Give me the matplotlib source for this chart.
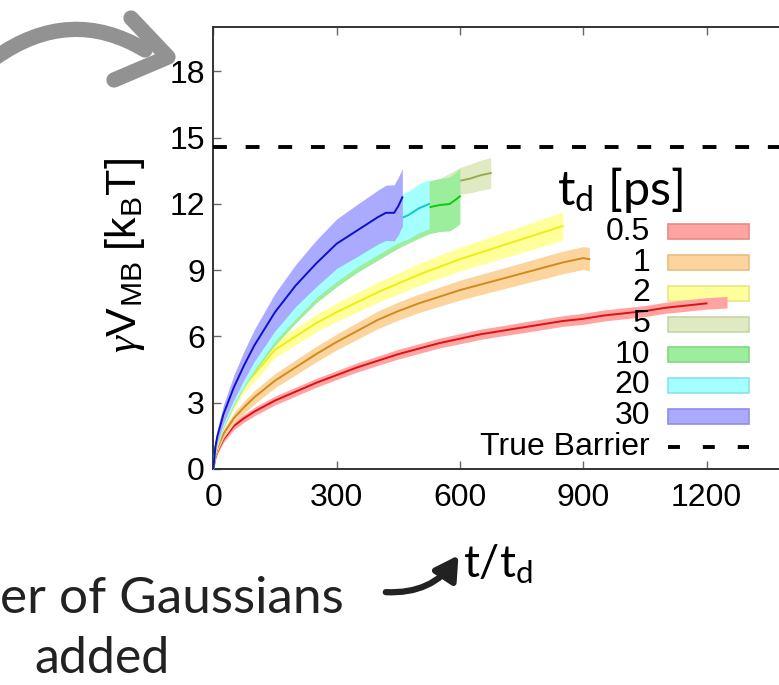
import matplotlib
matplotlib.use("Agg")
import matplotlib.pyplot as plt
import numpy as np
from matplotlib.patches import Rectangle, FancyArrowPatch, PathPatch
from matplotlib.path import Path
from matplotlib.lines import Line2D

plt.rcParams["lines.scale_dashes"] = False
plt.rcParams["mathtext.fontset"] = "custom"
plt.rcParams["mathtext.rm"] = "Liberation Sans"
plt.rcParams["mathtext.it"] = "Liberation Serif:italic"
plt.rcParams["font.family"] = ["Liberation Sans", "DejaVu Sans"]

# ---- data: barrier estimate vs. number of deposited Gaussians ----
labels = ["0.5", "1", "2", "5", "10", "20", "30"]
true_barrier = 14.6

x_05 = [0, 5, 10, 25, 50, 75, 100, 150, 200, 250, 300, 350, 400, 450, 500, 550,
        600, 650, 700, 750, 800, 850, 900, 950, 1000, 1050, 1100, 1150, 1200, 1250]
v_05 = [0, 0.5, 0.8, 1.35, 1.95, 2.3, 2.6, 3.1, 3.5, 3.9, 4.25, 4.6, 4.9, 5.2, 5.45, 5.7,
        5.9, 6.1, 6.25, 6.4, 6.55, 6.7, 6.8, 6.95, 7.05, 7.15, 7.3, 7.4, 7.5, 7.55]
e_05 = [0.05, 0.1, 0.12, 0.15, 0.17, 0.18, 0.19, 0.2, 0.2, 0.2, 0.2, 0.21, 0.21, 0.22, 0.22, 0.22,
        0.23, 0.23, 0.23, 0.24, 0.24, 0.24, 0.25, 0.25, 0.25, 0.25, 0.25, 0.26, 0.26, 0.26]

x_1 = [0, 5, 10, 25, 50, 75, 100, 150, 200, 250, 300, 350, 400, 450, 500, 550,
       600, 650, 700, 750, 800, 850, 900, 915]
v_1 = [0, 0.6, 0.95, 1.6, 2.3, 2.8, 3.25, 4.0, 4.6, 5.2, 5.75, 6.25, 6.75, 7.15, 7.5, 7.8,
       8.1, 8.35, 8.6, 8.85, 9.1, 9.35, 9.55, 9.5]
e_1 = [0.05, 0.12, 0.15, 0.2, 0.25, 0.28, 0.3, 0.32, 0.34, 0.35, 0.36, 0.38, 0.4, 0.41, 0.42, 0.43,
       0.45, 0.46, 0.47, 0.48, 0.5, 0.51, 0.52, 0.53]

x_2 = [0, 5, 10, 25, 50, 75, 100, 150, 200, 250, 300, 350, 400, 450, 500, 550,
       600, 650, 700, 750, 800, 850]
v_2 = [0, 0.8, 1.2, 2.1, 3.0, 3.8, 4.3, 5.4, 6.0, 6.6, 7.1, 7.55, 8.0, 8.4, 8.8, 9.15,
       9.5, 9.8, 10.1, 10.4, 10.7, 11.0]
e_2 = [0.05, 0.15, 0.2, 0.25, 0.3, 0.32, 0.34, 0.36, 0.38, 0.4, 0.42, 0.44, 0.46, 0.48, 0.5, 0.52,
       0.54, 0.56, 0.58, 0.6, 0.62, 0.64]

x_5 = [0, 5, 10, 25, 50, 75, 100, 150, 200, 250, 300, 350, 400, 450, 500, 550,
       600, 625, 650, 675]
v_5 = [0, 0.9, 1.4, 2.3, 3.4, 4.3, 5.1, 6.4, 7.6, 8.6, 9.5, 10.2, 10.9, 11.5, 12.0, 12.5,
       13.05, 13.15, 13.3, 13.4]
e_5 = [0.05, 0.2, 0.25, 0.3, 0.35, 0.4, 0.42, 0.45, 0.48, 0.5, 0.52, 0.55, 0.57, 0.6, 0.62, 0.64,
       0.6, 0.65, 0.68, 0.7]

x_10 = [0, 5, 10, 25, 50, 75, 100, 150, 200, 250, 300, 350, 400, 450, 500, 525,
        550, 575, 590, 600]
v_10 = [0, 0.9, 1.35, 2.2, 3.3, 4.2, 5.0, 6.3, 7.4, 8.4, 9.2, 9.9, 10.5, 11.1, 11.6, 11.85,
        11.95, 12.0, 12.2, 12.35]
e_10 = [0.05, 0.2, 0.25, 0.35, 0.45, 0.52, 0.6, 0.7, 0.8, 0.88, 0.95, 1.0, 1.05, 1.1, 1.15, 1.2,
        1.2, 1.22, 1.24, 1.25]

x_20 = [0, 5, 10, 25, 50, 75, 100, 150, 200, 250, 300, 350, 400, 450, 475, 500, 525]
v_20 = [0, 0.9, 1.4, 2.3, 3.4, 4.3, 5.1, 6.5, 7.6, 8.6, 9.4, 10.1, 10.7, 11.3, 11.5, 11.8, 12.0]
e_20 = [0.05, 0.2, 0.25, 0.35, 0.45, 0.52, 0.6, 0.7, 0.8, 0.85, 0.9, 0.95, 1.0, 1.05, 1.08, 1.1, 1.12]

x_30 = [0, 5, 10, 25, 50, 75, 100, 150, 200, 250, 300, 350, 400, 420, 440, 450, 460]
v_30 = [0, 1.0, 1.5, 2.5, 3.7, 4.7, 5.6, 7.1, 8.3, 9.3, 10.2, 10.8, 11.4, 11.6, 11.6, 11.9, 12.3]
e_30 = [0.05, 0.2, 0.3, 0.42, 0.55, 0.65, 0.72, 0.85, 0.95, 1.05, 1.12, 1.18, 1.22, 1.25, 1.27, 1.3, 1.3]

series = [
    (x_05, v_05, e_05, 1200),
    (x_1, v_1, e_1, 915),
    (x_2, v_2, e_2, 850),
    (x_5, v_5, e_5, 675),
    (x_10, v_10, e_10, 600),
    (x_20, v_20, e_20, 525),
    (x_30, v_30, e_30, 460),
]
band_colors = ["#ffa3a3", "#fcd59e", "#ffff9c", "#dfe9c2", "#9cee9c", "#a4ffff", "#aaaaff"]
edge_colors = ["#e88a8a", "#e8bd80", "#e8e880", "#c8d4a8", "#80d880", "#88e4e4", "#8e8ee8"]
line_colors = ["#dd1111", "#d08a20", "#eeee10", "#98aa50", "#10c810", "#10c8c8", "#1010cc"]

# ---- figure geometry (pixels) ----
W, H = 779, 685
fig = plt.figure(figsize=(W / 100, H / 100), dpi=100)


def fx(px):
    return px / W


def fy(py):
    return 1 - py / H


x0_px, y0_px, top_px = 213.3, 469.0, 27.3
xmax = 1500
ax = fig.add_axes([fx(x0_px), fy(y0_px), xmax * 0.411 / W, (y0_px - top_px) / H])

for i, (xs, vs, es, xend) in enumerate(series):
    xs = np.asarray(xs, float)
    vs = np.asarray(vs, float)
    es = np.asarray(es, float)
    z = 2 + i
    ax.fill_between(xs, vs - es, vs + es, color=band_colors[i], lw=0, zorder=z)
    m = xs <= xend
    ax.plot(xs[m], vs[m], color=line_colors[i], lw=1.4, zorder=z + 0.5)

ax.axhline(true_barrier, color="black", lw=2.8, dashes=(10, 13.5), zorder=20)

ax.set_xlim(0, xmax)
ax.set_ylim(0, 20)
ax.set_xticks([0, 300, 600, 900, 1200])
ax.set_yticks([0, 3, 6, 9, 12, 15, 18])
ax.tick_params(axis="both", direction="in", length=6, width=1, color="#666666",
               labelsize=23, top=True, right=True)
ax.tick_params(axis="x", pad=10)
ax.tick_params(axis="y", pad=6)
for s in ax.spines.values():
    s.set_color("#333333")
    s.set_linewidth(1.4)

# ---- legend, placed by hand ----
leg_y0, leg_dy = 232.0, 30.7
for i, lab in enumerate(labels):
    yc = leg_y0 + leg_dy * i
    ax.text(fx(650), fy(yc), lab, transform=fig.transFigure, ha="right", va="center",
            fontsize=23, color="black", zorder=30)
    ax.add_patch(Rectangle((fx(668), fy(yc + 7.5)), 81 / W, 15 / H, transform=fig.transFigure,
                           facecolor=band_colors[i], edgecolor=edge_colors[i], lw=1.2, zorder=1))
yc = leg_y0 + leg_dy * 7
ax.text(fx(650), fy(yc), "True Barrier", transform=fig.transFigure, ha="right", va="center",
        fontsize=23, color="black", zorder=30)
ax.add_line(Line2D([fx(668), fx(749)], [fy(yc), fy(yc)], transform=fig.transFigure,
                   color="black", lw=2.8, dashes=(8.6, 16.5), zorder=30))

fig.text(fx(557), fy(205), r"t$_{\mathregular{d}}$ [ps]", fontsize=35, family="Lato",
         ha="left", va="baseline")

# ---- axis labels ----
fig.text(fx(125), fy(256), r"$\gamma\mathregular{V_{MB}\ [k_{B}T]}$", rotation=90,
         fontsize=31, ha="center", va="center")
fig.text(fx(463), fy(577), r"t/t$_{\mathregular{d}}$", fontsize=32, family="Lato",
         ha="left", va="baseline")

# ---- annotation text and arrows ----
fig.text(fx(0), fy(613), "er of Gaussians", fontsize=37, family="Lato",
         ha="left", va="baseline", color="#222222")
fig.text(fx(102), fy(673), "added", fontsize=36, family="Lato",
         ha="center", va="baseline", color="#222222")

arrow = FancyArrowPatch((fx(383), fy(592)), (fx(460), fy(553)), transform=fig.transFigure,
                        connectionstyle="arc3,rad=0.3",
                        arrowstyle="-|>,head_length=0.7,head_width=0.4",
                        mutation_scale=20, lw=4.5, color="#222222")
fig.add_artist(arrow)

grey = "#929292"
shaft = Path([(fx(-5), fy(58)), (fx(70), fy(5)), (fx(145), fy(50))],
             [Path.MOVETO, Path.CURVE3, Path.CURVE3])
fig.add_artist(PathPatch(shaft, transform=fig.transFigure, facecolor="none", edgecolor=grey,
                         lw=11, capstyle="round"))
head = Path([(fx(131), fy(18)), (fx(168), fy(57)), (fx(114), fy(80))],
            [Path.MOVETO, Path.LINETO, Path.LINETO])
fig.add_artist(PathPatch(head, transform=fig.transFigure, facecolor="none", edgecolor=grey,
                         lw=11, capstyle="round", joinstyle="round"))

fig.savefig("out.png", dpi=100)
